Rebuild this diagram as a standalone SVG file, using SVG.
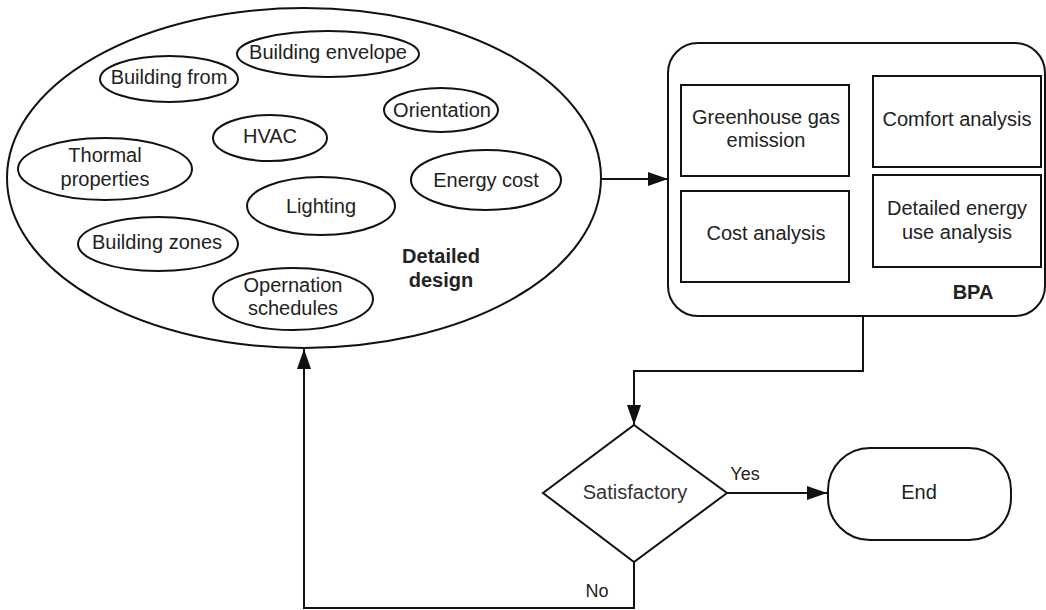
<svg xmlns="http://www.w3.org/2000/svg" width="1046" height="610" viewBox="0 0 1046 610">
<style>
.s{fill:#fff;stroke:#111;stroke-width:2}
.t{font-family:"Liberation Sans",Arial,sans-serif;font-size:20px;fill:#222;text-anchor:middle}
.b{font-weight:bold}
.c{fill:none;stroke:#111;stroke-width:2}
</style>
<defs>
<marker id="ah" markerWidth="20" markerHeight="14" refX="20" refY="7" orient="auto" markerUnits="userSpaceOnUse">
<path d="M0,0 L20,7 L0,14 Z" fill="#111"/>
</marker>
</defs>
<rect width="1046" height="610" fill="#fff"/>
<g id="detailed-design">
<ellipse class="s" cx="304" cy="178" rx="297" ry="170"/>
<text class="t b" x="441" y="263">Detailed</text>
<text class="t b" x="441" y="287">design</text>
</g>
<g id="building-envelope"><ellipse class="s" cx="328" cy="54" rx="91" ry="23"/><text class="t" x="328" y="59">Building envelope</text></g>
<g id="building-from"><ellipse class="s" cx="169" cy="79" rx="69" ry="23"/><text class="t" x="169" y="84">Building from</text></g>
<g id="orientation"><ellipse class="s" cx="441" cy="110" rx="57" ry="22"/><text class="t" x="442" y="117">Orientation</text></g>
<g id="hvac"><ellipse class="s" cx="270" cy="138" rx="57" ry="23"/><text class="t" x="270" y="143">HVAC</text></g>
<g id="thormal"><ellipse class="s" cx="105" cy="169" rx="87" ry="31"/><text class="t" x="105" y="162">Thormal</text><text class="t" x="105" y="186">properties</text></g>
<g id="energy-cost"><ellipse class="s" cx="486" cy="180" rx="75" ry="30"/><text class="t" x="486" y="187">Energy cost</text></g>
<g id="lighting"><ellipse class="s" cx="321" cy="206" rx="74" ry="29"/><text class="t" x="321" y="213">Lighting</text></g>
<g id="building-zones"><ellipse class="s" cx="158" cy="244" rx="80" ry="27"/><text class="t" x="157" y="249">Building zones</text></g>
<g id="operation"><ellipse class="s" cx="293" cy="299" rx="80" ry="31"/><text class="t" x="293" y="292">Opernation</text><text class="t" x="293" y="315">schedules</text></g>
<g id="bpa">
<rect class="s" x="668" y="43" width="377" height="273" rx="30"/>
<text class="t b" x="973" y="299">BPA</text>
</g>
<g id="greenhouse"><rect class="s" x="681" y="85" width="168" height="91"/><text class="t" x="766" y="124">Greenhouse gas</text><text class="t" x="766" y="147">emission</text></g>
<g id="comfort"><rect class="s" x="873" y="76" width="168" height="91"/><text class="t" x="957" y="126">Comfort analysis</text></g>
<g id="cost"><rect class="s" x="681" y="191" width="168" height="91"/><text class="t" x="766" y="240">Cost analysis</text></g>
<g id="energy-use"><rect class="s" x="873" y="175" width="168" height="92"/><text class="t" x="957" y="215">Detailed energy</text><text class="t" x="957" y="239">use analysis</text></g>
<g id="satisfactory"><polygon class="s" points="634,425 727,493 634,562 543,493"/><text class="t" x="635" y="499" style="fill:#333">Satisfactory</text></g>
<g id="end"><rect class="s" x="828" y="448" width="183" height="92" rx="42"/><text class="t" x="919" y="499">End</text></g>
<g id="connectors">
<path class="c" d="M601,179 L668,179" marker-end="url(#ah)"/>
<path class="c" d="M863,316 L863,371 L634,371 L634,425" marker-end="url(#ah)"/>
<path class="c" d="M727,493 L827,493" marker-end="url(#ah)"/>
<path class="c" d="M634,562 L634,608 L304,608 L304,349" marker-end="url(#ah)"/>
<text class="t" x="745" y="480" style="font-size:18px">Yes</text>
<text class="t" x="597" y="597" style="font-size:18px">No</text>
</g>
</svg>
